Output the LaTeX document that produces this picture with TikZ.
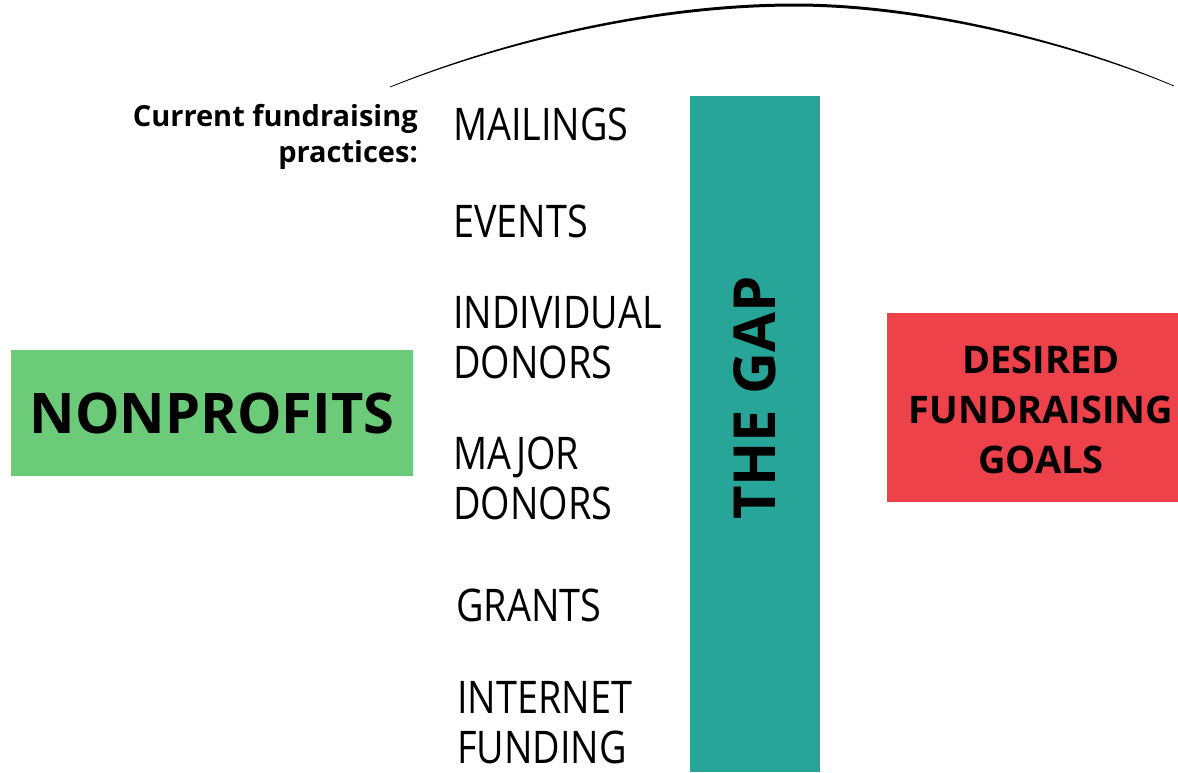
\documentclass[tikz,border=0pt]{standalone}
\usepackage{fontspec}
\setmainfont{Open Sans}
\newfontfamily\listfont[FakeStretch=0.84]{Open Sans}
\definecolor{gapteal}{HTML}{26A598}
\definecolor{nonprofitgreen}{HTML}{6BCB79}
\definecolor{goalred}{HTML}{EE424A}

\begin{document}
\begin{tikzpicture}[x=1pt,y=-1pt,
        every node/.style={inner sep=0pt},
        practice/.style={anchor=base west, align=left, font=\listfont\fontsize{45}{50}\selectfont},
        headline/.style={font=\bfseries\fontsize{56}{60}\selectfont}]
        \useasboundingbox (0,0) rectangle (1178,772);
        % the arc over the top
        \fill [black] (390,86.6) .. controls (500,42) and (650,3.5) .. (795,3.5)
            .. controls (920,3.5) and (1070,41) .. (1174,85.6) -- (1174,86.4)
            .. controls (1070,43) and (920,6.5) .. (795,6.5)
            .. controls (650,6.5) and (500,44) .. (390,87.4) -- cycle;
        % boxes
        \node [fill=nonprofitgreen, minimum width=402, minimum height=126, headline] (nonprofits) at (212,413) {NONPROFITS};
        \node [fill=goalred, minimum width=291, minimum height=189] (goalbox) at (1032.5,407.5) {};
        \node [align=center, font=\bfseries\fontsize{38}{50}\selectfont] (goals) at (1041,410) {DESIRED\\FUNDRAISING\\GOALS};
        \node [fill=gapteal, minimum width=130, minimum height=676] (gap) at (755,434) {};
        \node [rotate=90, font=\bfseries\fontsize{58}{60}\selectfont] (gaplabel) at (755,398) {THE GAP};
        % current practices
        \node [anchor=base east, align=right, font=\bfseries\fontsize{29}{36}\selectfont] (current) at (418,162) {Current fundraising\\practices:};
        \node [practice] (mailings) at (453,140) {MAILINGS};
        \node [practice] (events) at (453,237) {EVENTS};
        \node [practice] (individual) at (453,378) {INDIVIDUAL\\DONORS};
        \node [practice] (major) at (453,519) {MAJOR\\DONORS};
        \node [practice] (grants) at (456,621) {GRANTS};
        \node [practice] (internet) at (457,763) {INTERNET\\FUNDING};
\end{tikzpicture}
\end{document}
